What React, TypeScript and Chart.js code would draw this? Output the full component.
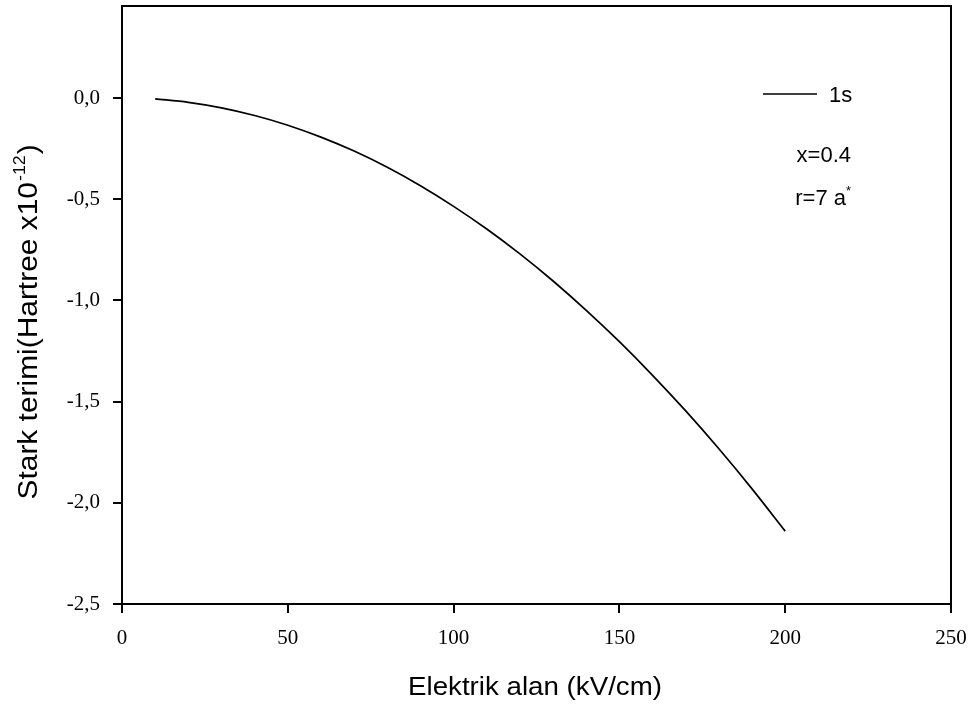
import React, { useEffect, useRef } from "react";
import { Chart, registerables } from "chart.js";

Chart.register(...registerables);

const fieldValues = [10, 20, 30, 40, 50, 60, 70, 80, 90, 100, 110, 120, 130, 140, 150, 160, 170, 180, 190, 200];
const starkValues = [-0.004, -0.021, -0.048, -0.086, -0.134, -0.193, -0.262, -0.342, -0.433, -0.535, -0.647, -0.77, -0.904, -1.049, -1.204, -1.37, -1.546, -1.733, -1.931, -2.14];
const yTickValues = [-2.5, -2.0, -1.5, -1.0, -0.5, 0.0];
const xTickValues = [0, 50, 100, 150, 200, 250];
const seriesLabel = "1s";
const noteX = "x=0.4";
const noteR = "r=7 a";
const noteRSup = "*";
const xTitle = "Elektrik alan (kV/cm)";
const yTitleMain = "Stark terimi(Hartree x10";
const yTitleSup = "-12";
const yTitleEnd = ")";

const SERIF = "'Liberation Serif', 'Times New Roman', serif";
const SANS = "'Liberation Sans', Arial, sans-serif";

const decorPlugin = {
  id: "decor",
  afterDraw(chart: any) {
    const ctx = chart.ctx;
    const a = chart.chartArea;
    ctx.save();
    // frame
    ctx.strokeStyle = "#000";
    ctx.lineWidth = 2;
    ctx.strokeRect(a.left, a.top, a.right - a.left, a.bottom - a.top);

    // legend
    ctx.lineWidth = 1.6;
    ctx.beginPath();
    ctx.moveTo(763, 94);
    ctx.lineTo(817, 94);
    ctx.stroke();
    ctx.fillStyle = "#000";
    ctx.font = `22px ${SANS}`;
    ctx.textBaseline = "alphabetic";
    ctx.textAlign = "left";
    ctx.fillText(seriesLabel, 829, 102);
    ctx.textAlign = "right";
    ctx.fillText(noteX, 851, 162);
    ctx.fillText(noteR, 846, 205);
    ctx.font = `13px ${SANS}`;
    ctx.textAlign = "left";
    ctx.fillText(noteRSup, 846, 195);

    // x title (slightly wide face in the original)
    ctx.save();
    ctx.font = `25px ${SANS}`;
    const xw = ctx.measureText(xTitle).width;
    const sx = 254 / xw;
    ctx.translate(408, 695);
    ctx.scale(sx, 1);
    ctx.textAlign = "left";
    ctx.fillText(xTitle, 0, 0);
    ctx.restore();

    // y title rotated
    ctx.save();
    ctx.translate(37, 323);
    ctx.rotate(-Math.PI / 2);
    ctx.textAlign = "left";
    ctx.font = `27px ${SANS}`;
    const w1 = ctx.measureText(yTitleMain).width;
    ctx.font = `16px ${SANS}`;
    const w2 = ctx.measureText(yTitleSup).width;
    ctx.font = `27px ${SANS}`;
    const w3 = ctx.measureText(yTitleEnd).width;
    const total = w1 + w2 + w3;
    const sy = 353 / total;
    ctx.scale(sy, 1);
    let x = -total / 2;
    ctx.fillText(yTitleMain, x, 0);
    x += w1;
    ctx.font = `16px ${SANS}`;
    ctx.fillText(yTitleSup, x + 1, -12);
    x += w2 + 2;
    ctx.font = `27px ${SANS}`;
    ctx.fillText(yTitleEnd, x, 0);
    ctx.restore();
    ctx.restore();
  },
};

export default function App() {
  const canvasRef = useRef<HTMLCanvasElement | null>(null);

  useEffect(() => {
    document.body.style.margin = "0";
    const canvas = canvasRef.current!;
    const chart = new Chart(canvas, {
      type: "line",
      data: {
        datasets: [
          {
            label: seriesLabel,
            data: fieldValues.map((v, i) => ({ x: v, y: starkValues[i] })),
            borderColor: "#000",
            borderWidth: 1.7,
            pointRadius: 0,
            cubicInterpolationMode: "monotone",
            fill: false,
          },
        ],
      },
      options: {
        animation: false,
        responsive: false,
        maintainAspectRatio: false,
        layout: { padding: { left: 0, right: 25, top: 6, bottom: 0 } },
        plugins: {
          legend: { display: false },
          tooltip: { enabled: false },
        },
        scales: {
          x: {
            type: "linear",
            min: 0,
            max: 250,
            afterBuildTicks: (s: any) => {
              s.ticks = xTickValues.map((v) => ({ value: v }));
            },
            afterFit: (s: any) => {
              s.height = 107;
              s.paddingLeft = 0;
              s.paddingRight = 0;
            },
            grid: { drawOnChartArea: false, drawTicks: true, tickLength: 9, color: "#000", lineWidth: 2 },
            border: { display: true, color: "#000", width: 2 },
            ticks: {
              color: "#000",
              padding: 13,
              maxRotation: 0,
              font: { family: SERIF, size: 21 },
              callback: (v: any) => String(v),
            },
          },
          y: {
            type: "linear",
            min: -2.5,
            max: 0.455,
            afterBuildTicks: (s: any) => {
              s.ticks = yTickValues.map((v) => ({ value: v }));
            },
            afterFit: (s: any) => {
              s.width = 122;
              s.paddingTop = 0;
              s.paddingBottom = 0;
            },
            grid: { drawOnChartArea: false, drawTicks: true, tickLength: 9, color: "#000", lineWidth: 2 },
            border: { display: true, color: "#000", width: 2 },
            ticks: {
              color: "#000",
              padding: 13,
              font: { family: SERIF, size: 21 },
              callback: (v: any) => Number(v).toFixed(1).replace(".", ","),
            },
          },
        },
      } as any,
      plugins: [decorPlugin],
    });
    return () => chart.destroy();
  }, []);

  return (
    <div style={{ position: "absolute", left: 0, top: 0, width: 976, height: 711, background: "#fff" }}>
      <canvas ref={canvasRef} width={976} height={711} style={{ width: 976, height: 711, display: "block" }} />
    </div>
  );
}
